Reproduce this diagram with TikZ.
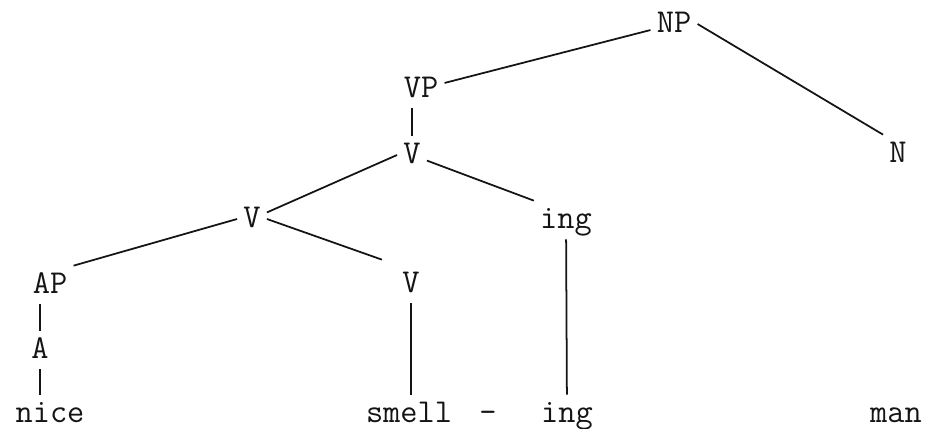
\documentclass[tikz,border=0pt]{standalone}
\usepackage{xcolor}
\usepackage{tikz}
\usetikzlibrary{positioning, calc}
\definecolor{inkcol}{RGB}{20, 20, 20}

\begin{document}
\begin{tikzpicture}[
    font=\ttfamily\fontsize{19pt}{22pt}\selectfont,
    branch/.style={-, line width=1pt, draw=inkcol},
    label/.style={anchor=base, text=inkcol, inner sep=0.12cm,
                  text height=0.42cm, text depth=0.1cm},
]
\useasboundingbox (0, 0) rectangle (18.6, 8.56);

% ============================================================
% NODES (upper tree)
% ============================================================
\node[label] (np) at (13.48, 7.92) {NP};
\node[label] (vp) at (8.42, 6.62) {VP};
\node[label] (n)  at (17.96, 5.32) {N};
\node[label] (vtop) at (8.24, 5.30) {V};
\node[label] (vmid) at (5.04, 4.02) {V};
\node[label] (ingup) at (11.32, 4.00) {ing};
\node[label] (ap) at (1.00, 2.70) {AP};
\node[label] (vlow) at (8.22, 2.72) {V};
\node[label] (a)  at (0.80, 1.40) {A};

% ============================================================
% WORDS (bottom line)
% ============================================================
\node[label] (nice)  at (1.00, 0.12) {nice};
\node[label] (smell) at (8.18, 0.12) {smell};
\node[label] (dash)  at (9.76, 0.12) {-};
\node[label] (ingdn) at (11.34, 0.12) {ing};
\node[label] (man)   at (17.92, 0.12) {man};

% ============================================================
% BRANCHES
% ============================================================
\draw[branch] (np) -- (vp);
\draw[branch] (np.east) -- (n.north west);
\draw[branch] (vp.south -| vtop) -- (vtop);
\draw[branch] (vtop.west) -- (vmid);
\draw[branch] (vtop) -- (ingup.north west);
\draw[branch] (vmid.west) -- (ap.north east);
\draw[branch, shorten >=0.3cm] (vmid.east) -- (vlow.north west);
\draw[branch] (ap.south -| a) -- (a);
\draw[branch] (a) -- (a |- nice.north);
\draw[branch] (vlow) -- (vlow |- smell.north);
\draw[branch] (ingup) -- (ingdn);

\end{tikzpicture}
\end{document}
